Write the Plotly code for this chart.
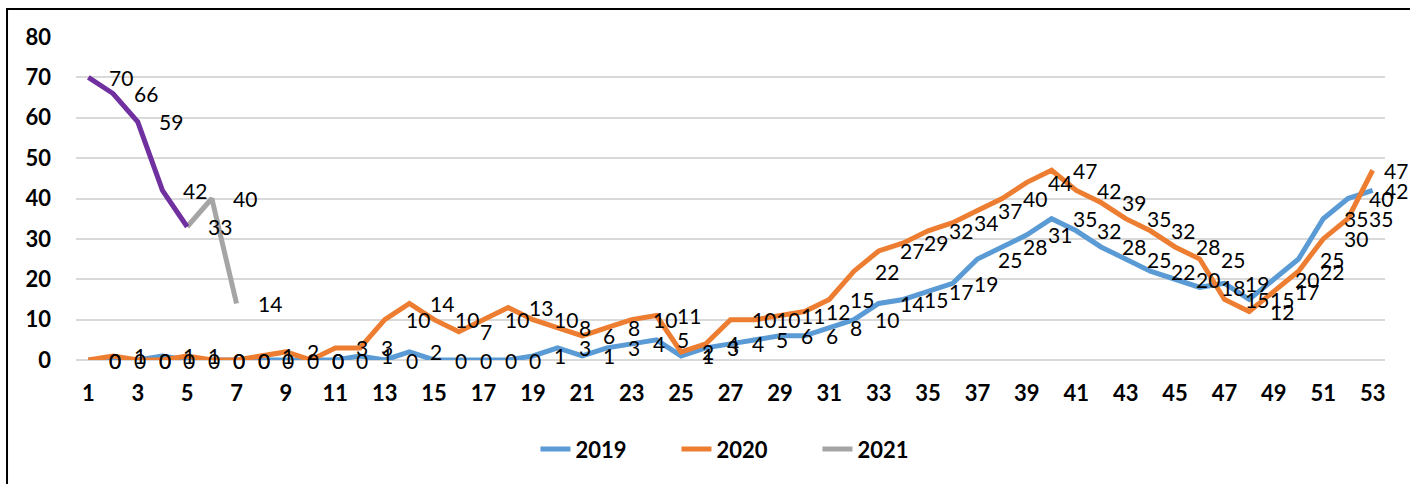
import plotly.graph_objects as go

weeks = list(range(1, 54))
cases_2019 = [0, 0, 0, 1, 0, 0, 0, 0, 0, 0, 0, 1, 0, 2, 0, 0, 0, 0, 1, 3,
              1, 3, 4, 5, 1, 3, 4, 5, 6, 6, 8, 10, 14, 15, 17, 19, 25, 28, 31, 35,
              32, 28, 25, 22, 20, 18, 19, 15, 20, 25, 35, 40, 42]
cases_2020 = [0, 1, 0, 0, 1, 0, 0, 1, 2, 0, 3, 3, 10, 14, 10, 7, 10, 13, 10, 8,
              6, 8, 10, 11, 2, 4, 10, 10, 11, 12, 15, 22, 27, 29, 32, 34, 37, 40, 44, 47,
              42, 39, 35, 32, 28, 25, 15, 12, 17, 22, 30, 35, 47]
weeks_2021 = list(range(1, 8))
cases_2021 = [70, 66, 59, 42, 33, 40, 14]
purple_until = 5  # first 2021 weeks are drawn in purple

x_ticks = list(range(1, 54, 2))
y_ticks = list(range(0, 81, 10))

BLUE = "#5B9BD5"
ORANGE = "#ED7D31"
GRAY = "#A5A5A5"
PURPLE = "#7030A0"
FONT = "Lato"

fig = go.Figure()
fig.add_trace(go.Scatter(x=weeks, y=cases_2019, name="2019", mode="lines",
                         line=dict(color=BLUE, width=5)))
fig.add_trace(go.Scatter(x=weeks, y=cases_2020, name="2020", mode="lines",
                         line=dict(color=ORANGE, width=5)))
fig.add_trace(go.Scatter(x=weeks_2021[purple_until - 1:], y=cases_2021[purple_until - 1:],
                         name="2021", mode="lines", line=dict(color=GRAY, width=5)))
fig.add_trace(go.Scatter(x=weeks_2021[:purple_until], y=cases_2021[:purple_until],
                         name="2021", mode="lines", showlegend=False,
                         line=dict(color=PURPLE, width=5)))

# data labels to the right of each point, like Excel
for xs, ys in [(weeks, cases_2019), (weeks, cases_2020), (weeks_2021, cases_2021)]:
    for x, y in zip(xs, ys):
        fig.add_annotation(x=x, y=y, text=str(y), showarrow=False,
                           xanchor="left", yanchor="middle",
                           xshift=19 if x < weeks[-1] else 9,
                           font=dict(family=FONT, size=21, color="black"))

# outer chart border
fig.add_shape(type="rect", xref="paper", yref="paper",
              x0=-0.0527, x1=1.03, y0=-0.41, y1=1.087,
              line=dict(color="black", width=2), layer="above")

fig.update_layout(
    width=1410,
    height=484,
    autosize=False,
    margin=dict(l=76, r=25, t=37, b=124),
    plot_bgcolor="white",
    paper_bgcolor="white",
    showlegend=True,
    legend=dict(orientation="h", x=0.351, xanchor="left", y=-0.276, yanchor="middle",
                font=dict(family=FONT, size=22, color="black", weight="bold"),
                entrywidth=96, entrywidthmode="pixels"),
    xaxis=dict(range=[0.5, 53.5], tickvals=x_ticks, showgrid=False, zeroline=False,
               showline=False, ticks="", ticklabelstandoff=18, automargin=False,
               tickfont=dict(family=FONT, size=22, color="black", weight="bold")),
    yaxis=dict(range=[0, 80], tickvals=y_ticks, showgrid=True, gridcolor="#D9D9D9",
               gridwidth=1.5, zeroline=True, zerolinecolor="#D9D9D9", zerolinewidth=1.5,
               showline=False, ticks="", ticklabelstandoff=24, automargin=False,
               tickfont=dict(family=FONT, size=22, color="black", weight="bold")),
)

fig.write_html("out.html", config={"displayModeBar": False},
               post_script="document.body.style.margin='0';")
